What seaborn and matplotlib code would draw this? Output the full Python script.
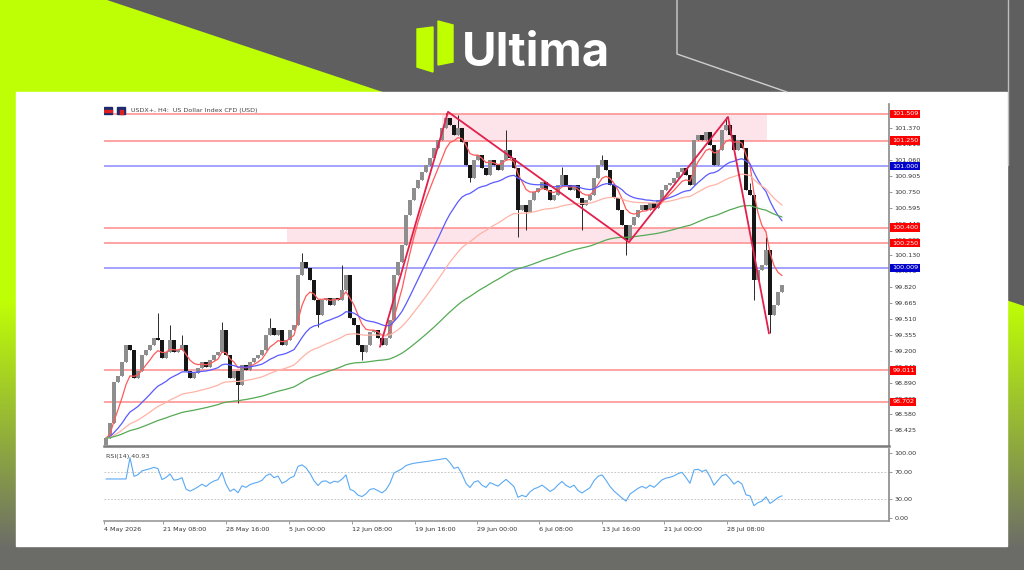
import numpy as np
import pandas as pd
import matplotlib
matplotlib.use('Agg')
import matplotlib.pyplot as plt
from matplotlib.patches import Polygon, Rectangle
import seaborn as sns

# ---- data (H4 bars, thinned to every 2nd bar) ----
first_open = 98.28
closes = [
    98.35, 98.50, 98.90, 98.96, 99.09, 99.26, 99.21, 98.94, 99.00, 99.16,
    99.21, 99.26, 99.33, 99.31, 99.13, 99.19, 99.31, 99.19, 99.21, 99.26,
    99.00, 98.94, 98.98, 99.03, 99.09, 99.04, 99.11, 99.16, 99.19, 99.40,
    99.16, 98.94, 99.00, 98.87, 99.06, 99.01, 99.09, 99.13, 99.16, 99.21,
    99.35, 99.42, 99.35, 99.40, 99.26, 99.31, 99.40, 99.45, 99.94, 100.07,
    100.01, 99.89, 99.70, 99.55, 99.70, 99.72, 99.65, 99.72, 99.70, 99.79,
    99.94, 99.52, 99.45, 99.26, 99.19, 99.26, 99.38, 99.40, 99.33, 99.26,
    99.33, 99.50, 99.94, 100.07, 100.23, 100.52, 100.67, 100.79, 100.87, 100.94,
    101.01, 101.08, 101.18, 101.26, 101.37, 101.47, 101.40, 101.30, 101.37, 101.24,
    101.01, 100.88, 101.06, 101.11, 100.98, 100.91, 101.06, 101.01, 100.96, 101.06,
    101.16, 101.08, 100.98, 100.57, 100.62, 100.55, 100.67, 100.75, 100.79, 100.85,
    100.77, 100.67, 100.72, 100.82, 100.91, 100.82, 100.77, 100.82, 100.69, 100.62,
    100.67, 100.72, 100.88, 101.01, 101.06, 100.96, 100.82, 100.69, 100.57, 100.43,
    100.28, 100.43, 100.50, 100.57, 100.62, 100.57, 100.64, 100.59, 100.67, 100.77,
    100.82, 100.84, 100.88, 100.94, 100.98, 100.91, 100.82, 101.26, 101.30, 101.26,
    101.33, 101.21, 101.01, 101.16, 101.35, 101.40, 101.30, 101.16, 101.26, 101.18,
    100.77, 100.72, 99.89, 99.99, 100.04, 100.18, 99.55, 99.65, 99.77, 99.84,
]
# long wicks that stand out
high_bars = [13, 16, 19, 29, 41, 49, 59, 85, 88, 100, 114, 124, 155, 161, 165]
high_vals = [99.57, 99.45, 99.35, 99.48, 99.52, 100.15, 100.04, 101.52, 101.50,
             101.35, 100.99, 101.11, 101.48, 100.84, 100.31]
low_bars = [0, 33, 53, 64, 91, 103, 105, 119, 130, 162, 166]
low_vals = [98.30, 98.69, 99.43, 99.11, 100.85, 100.31, 100.38, 100.38, 100.13,
            99.70, 99.37]

# horizontal levels
level_prices = [101.509, 101.250, 101.000, 100.400, 100.250, 100.009, 99.011, 98.702]
level_kinds = ['r', 'r', 'b', 'r', 'r', 'b', 'r', 'r']

# shaded zones: start bar, end bar, low, high
zone_start = [84, 45.25]
zone_end = [165.25, 165.25]
zone_low = [101.250, 100.250]
zone_high = [101.509, 100.400]

# zigzag pattern pivots
zz_bar = [68.5, 85.5, 130.75, 155.5, 165.75]
zz_price = [99.24, 101.53, 100.26, 101.48, 99.37]

# moving averages (spans in thinned bars) and colours
ma_spans = [7, 25, 50, 100]
ma_colors = ['#ff5a5a', '#5a5aff', '#ffb3a6', '#55aa55']

price_ticks = [98.425, 98.580, 98.735, 98.890, 99.045, 99.200, 99.355, 99.510,
               99.665, 99.820, 99.975, 100.130, 100.285, 100.440, 100.595,
               100.750, 100.905, 101.060, 101.215, 101.370]
time_ticks = [-0.5, 14.25, 30, 45.75, 61.5, 77.25, 92.75, 108.25, 124, 139.5, 155.25]
time_labels = ['4 May 2026', '21 May 08:00', '28 May 16:00', '5 Jun 00:00',
               '12 Jun 08:00', '19 Jun 16:00', '29 Jun 00:00', '6 Jul 08:00',
               '13 Jul 16:00', '21 Jul 00:00', '28 Jul 08:00']

# ---- derived series ----
close = pd.Series(closes)
bars = np.arange(len(close))
opens = close.shift(1).fillna(first_open)
highs = np.maximum(opens, close).to_numpy()
lows = np.minimum(opens, close).to_numpy()
highs[high_bars] = high_vals
lows[low_bars] = low_vals

delta = close.diff().fillna(0)
gain = delta.clip(lower=0).ewm(alpha=1 / 9, adjust=False).mean()
loss = (-delta.clip(upper=0)).ewm(alpha=1 / 9, adjust=False).mean()
rsi = 100 - 100 / (1 + gain / loss.replace(0, np.nan))
rsi = rsi.fillna(60)

sns.set_theme(style='white')
plt.rcParams['font.family'] = ['DejaVu Sans']

W, H = 1024, 570
fig = plt.figure(figsize=(W / 100, H / 100), dpi=100)

# ---- branded frame ----
bg = fig.add_axes([0, 0, 1, 1], zorder=-10)
bg.add_patch(Rectangle((0, 0), W, H, color='#5f5f5f', zorder=0))
yy, xx = np.mgrid[0:H, 0:W]
t = np.clip((yy - 300) / 250, 0, 1)[..., None]
lime = np.array([0.75, 1.0, 0.02])
grey = np.array([0.42, 0.42, 0.41])
im = bg.imshow(lime * (1 - t) + grey * t, extent=(0, W, H, 0), aspect='auto', zorder=1)
im.set_clip_path(Polygon([(0, 0), (107, 0), (W, 306), (W, H), (0, H)],
                         closed=True, transform=bg.transData))
bg.add_patch(Rectangle((16, 92), 991, 454, color='white', zorder=2))
bg.plot([677, 677, 787], [0, 54, 92], color='#cfcfcf', lw=1, zorder=3)
bg.plot([1008, 1008], [0, 165], color='#bdbdbd', lw=1, zorder=3)
bg.add_patch(Polygon([(417, 29), (433, 27), (433, 72), (417, 67)], color='#c0ff00', zorder=3))
bg.add_patch(Polygon([(438, 21), (453, 25), (453, 62), (438, 65)], color='#c0ff00', zorder=3))
bg.text(462, 65, 'Ultima', color='white', fontsize=34, fontweight='bold',
        family=['Inter', 'DejaVu Sans'], ha='left', va='baseline', zorder=3)
bg.set_xlim(0, W)
bg.set_ylim(H, 0)
bg.axis('off')

# ---- price panel ----
ax = fig.add_axes([104 / W, 1 - 446 / H, 785 / W, 342 / H])
ax_rsi = fig.add_axes([104 / W, 1 - 521 / H, 785 / W, 72 / H])

for x0, x1, y0, y1 in zip(zone_start, zone_end, zone_low, zone_high):
    ax.fill_between([x0, x1], [y0, y0], [y1, y1], color='#fde4ea', lw=0, zorder=0.5)

for p, k in zip(level_prices, level_kinds):
    ax.axhline(p, color='#ff8a8a' if k == 'r' else '#8a8aff', lw=1.1, zorder=1)

ax.vlines(bars, lows, highs, color='#2a2a2a', lw=0.7, zorder=2)
body_colors = np.where(close >= opens, '#8e8e8e', '#161616')
ax.bar(bars, np.maximum(np.abs(close - opens), 0.015), bottom=np.minimum(opens, close),
       width=0.78, color=body_colors, lw=0, zorder=2.2)

for span, col in zip(ma_spans, ma_colors):
    ema = close.ewm(span=span, adjust=False).mean()
    sns.lineplot(x=bars, y=ema.to_numpy(), ax=ax, color=col, lw=0.9, zorder=3)

ax.plot(zz_bar, zz_price, color='#e3204b', lw=1.3, zorder=4)

ax.set_xlim(-0.5, 195.75)
ax.set_ylim(98.273, 101.606)
ax.set_xticks([])
ax.yaxis.tick_right()
ax.set_yticks(price_ticks)
ax.set_yticklabels([f'{v:.3f}' for v in price_ticks])
ax.tick_params(axis='y', right=True, length=2.5, width=0.6, pad=1.5, labelsize=4.6,
               color='#888888', labelcolor='#333333')
for side in ['top', 'left']:
    ax.spines[side].set_visible(False)
ax.spines['right'].set_color('#8a8a8a')
ax.spines['right'].set_linewidth(1.2)
ax.spines['bottom'].set_color('#7a7a7a')
ax.spines['bottom'].set_linewidth(1.8)
ax.set_xlabel('')
ax.set_ylabel('')

for p, k in zip(level_prices, level_kinds):
    ax.text(1.004, p, f'{p:.3f}', transform=ax.get_yaxis_transform(), fontsize=4.6,
            color='white', ha='left', va='center', clip_on=False, zorder=10,
            bbox=dict(boxstyle='square,pad=0.28', fc='#ff0000' if k == 'r' else '#0000cc', ec='none'))

ax.text(0.0344, 0.982, 'USDX+, H4:  US Dollar Index CFD (USD)', transform=ax.transAxes,
        fontsize=4.6, color='#444444', ha='left', va='center')
ax.add_patch(Rectangle((0.0, 0.970), 0.010, 0.022, transform=ax.transAxes, color='#1c2a6e'))
ax.add_patch(Rectangle((0.0, 0.978), 0.010, 0.005, transform=ax.transAxes, color='#e02020'))
ax.add_patch(Rectangle((0.017, 0.970), 0.010, 0.022, transform=ax.transAxes, color='#1c2a6e'))
ax.add_patch(Rectangle((0.021, 0.970), 0.003, 0.012, transform=ax.transAxes, color='#e02020'))

# ---- RSI panel ----
for lv in [70, 30]:
    ax_rsi.axhline(lv, color='#bdbdbd', lw=0.6, ls=(0, (2, 2)), zorder=1)
sns.lineplot(x=bars, y=rsi.to_numpy(), ax=ax_rsi, color='#5aa9f5', lw=0.8, zorder=2)
ax_rsi.set_xlim(-0.5, 195.75)
ax_rsi.set_ylim(-4.5, 106)
ax_rsi.yaxis.tick_right()
ax_rsi.set_yticks([0, 30, 70, 100])
ax_rsi.set_yticklabels(['0.00', '30.00', '70.00', '100.00'])
ax_rsi.set_xticks(time_ticks)
ax_rsi.set_xticklabels(time_labels, ha='left')
ax_rsi.tick_params(axis='both', length=2.5, width=0.6, pad=1.5, labelsize=4.6,
                   color='#888888', labelcolor='#333333', right=True, bottom=True)
for side in ['top', 'left']:
    ax_rsi.spines[side].set_visible(False)
ax_rsi.spines['right'].set_color('#8a8a8a')
ax_rsi.spines['right'].set_linewidth(1.2)
ax_rsi.spines['bottom'].set_color('#9a9a9a')
ax_rsi.spines['bottom'].set_linewidth(1.2)
ax_rsi.set_xlabel('')
ax_rsi.set_ylabel('')
ax_rsi.text(0.003, 0.90, 'RSI(14) 40.93', transform=ax_rsi.transAxes, fontsize=4.6,
            color='#444444', ha='left', va='center')

fig.savefig('out.png', dpi=100)
